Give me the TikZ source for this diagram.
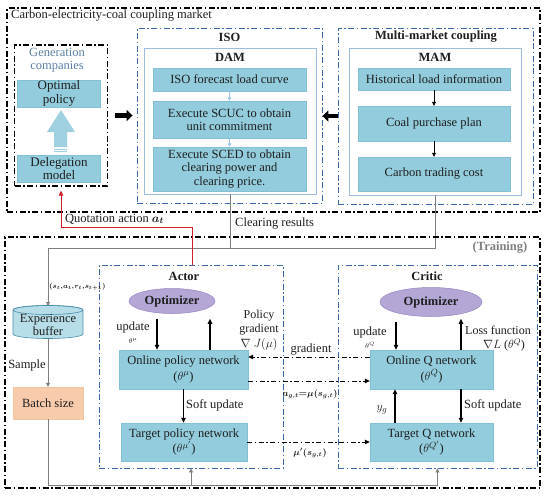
\documentclass[tikz,border=0pt]{standalone}
\usepackage{fontspec}
\setmainfont{Liberation Serif}
\usepackage{amsmath}
\usetikzlibrary{arrows.meta,shapes.geometric}
\definecolor{boxblue}{HTML}{93CDDD}
\definecolor{boxedge}{HTML}{82C0D3}
\definecolor{ddblue}{HTML}{3A6AA8}
\definecolor{lineblue}{HTML}{9DBCE0}
\definecolor{arrblue}{HTML}{9DC3E6}
\definecolor{genblue}{HTML}{5B7FA6}
\definecolor{optfill}{HTML}{B4A7D6}
\definecolor{optedge}{HTML}{9584C0}
\definecolor{peach}{HTML}{F8CBAD}
\definecolor{peachedge}{HTML}{F4C3A0}
\definecolor{cylfill}{HTML}{B7DEE8}
\definecolor{cyledge}{HTML}{4A8FA8}
\definecolor{bigarrow}{HTML}{9FD0E0}
\definecolor{gline}{HTML}{7F7F7F}
\definecolor{redline}{HTML}{D0202A}
\definecolor{ink}{HTML}{1E1E1E}
\begin{document}
\begin{tikzpicture}[x=1pt,y=-1pt,
  font=\fontsize{12.5}{13.5}\selectfont, text=ink,
  outerbk/.style={draw=black, line width=1.2pt, dash pattern=on 6pt off 2.5pt on 1.5pt off 2.5pt, inner sep=0pt},
  bluedd/.style={draw=ddblue, line width=0.9pt, dash pattern=on 6pt off 2.5pt on 1.5pt off 2.5pt, inner sep=0pt},
  panel/.style={draw=lineblue, line width=0.8pt, inner sep=0pt},
  bbox/.style={fill=boxblue, draw=boxedge, line width=0.4pt, align=center, inner sep=1pt},
  netbox/.style={bbox, font=\fontsize{12.5}{15.5}\selectfont},
  optell/.style={ellipse, fill=optfill, draw=optedge, line width=0.5pt, inner sep=0pt, font=\fontsize{12.5}{13.5}\selectfont\bfseries},
  karr/.style={draw=black, line width=1.2pt, -{Triangle[length=5pt,width=4.5pt]}},
  ddarr/.style={draw=black, line width=0.8pt, dash pattern=on 5pt off 2.5pt on 1.5pt off 2.5pt, -{Triangle[length=5pt,width=4.5pt]}},
  bigarr/.style={draw=black, line width=4.5pt, -{Triangle[length=6pt,width=11pt]}},
  lbarr/.style={draw=arrblue, line width=0.8pt, -{Triangle[length=3.5pt,width=3.5pt]}},
  thinarr/.style={draw=black, line width=0.8pt, -{Triangle[length=4pt,width=4pt]}},
  gl/.style={draw=gline, line width=0.8pt},
  garr/.style={draw=gline, line width=0.8pt, -{Triangle[length=4pt,width=4pt]}},
  redarr/.style={draw=redline, line width=1pt, -{Triangle[length=5pt,width=4.5pt]}},
  ttl/.style={font=\fontsize{12.5}{13.5}\selectfont\bfseries},
  lbl/.style={align=center, inner sep=0pt}
]
\useasboundingbox (0,0) rectangle (550,496);

% ---------------- market ----------------
\node[outerbk, minimum width=533, minimum height=204] (market) at (273.5,110) {};
\node[anchor=west, inner sep=0pt] (mlabel) at (11,16) {Carbon-electricity-coal coupling market};

% generation companies
\node[outerbk, minimum width=93, minimum height=141] (gen) at (61,115.5) {};
\node[lbl, text=genblue] (genlbl) at (57,60) {Generation\\companies};
\node[bbox, minimum width=83, minimum height=27, font=\fontsize{13}{13.5}\selectfont] (optp) at (59,93.5) {Optimal\\policy};
\node[bbox, minimum width=83, minimum height=27, font=\fontsize{13}{13.5}\selectfont] (deleg) at (59,168.5) {Delegation\\model};
\fill[bigarrow] (54,147) -- (54,132) -- (47,132) -- (61,110) -- (75,132) -- (67,132) -- (67,147) -- cycle;
\fill[bigarrow] (54,148.5) rectangle (67,149.5);
\fill[bigarrow] (54,151) rectangle (67,152);

% ISO
\node[bluedd, minimum width=185, minimum height=175] (iso) at (229.5,115.5) {};
\node[ttl] (isot) at (229.5,37) {ISO};
\node[panel, minimum width=172, minimum height=146] (dam) at (230,121) {};
\node[ttl] (damt) at (230,57) {DAM};
\node[bbox, minimum width=153, minimum height=23] (fcst) at (229.5,79.5) {ISO forecast load curve};
\node[bbox, minimum width=153, minimum height=37] (scuc) at (229.5,119.5) {Execute SCUC to obtain\\unit commitment};
\node[bbox, minimum width=153, minimum height=44] (sced) at (229.5,169) {Execute SCED to obtain\\clearing power and\\clearing price.};
\draw[lbarr] (fcst.south) -- (scuc.north);
\draw[lbarr] (scuc.south) -- (sced.north);

% MAM
\node[bluedd, minimum width=195, minimum height=176] (mmc) at (435.5,116) {};
\node[ttl] (mmct) at (436,37) {Multi-market coupling};
\node[panel, minimum width=172, minimum height=147] (mam) at (435,121.5) {};
\node[ttl] (mamt) at (435,57) {MAM};
\node[bbox, minimum width=152, minimum height=22] (hist) at (434,79) {Historical load information};
\node[bbox, minimum width=152, minimum height=35] (coal) at (434,123.5) {Coal purchase plan};
\node[bbox, minimum width=152, minimum height=34] (carb) at (434,174) {Carbon trading cost};
\draw[thinarr] (hist.south) -- (coal.north);
\draw[thinarr] (coal.south) -- (carb.north);

% thick arrows
\draw[bigarr] ([xshift=7pt]gen.east) -- ([xshift=-4pt]gen.east -| iso.west);
\draw[bigarr] (mmc.west) -- (mmc.west -| iso.east);

% clearing results
\coordinate (clr) at (0,248);
\draw[gl] (mam.south) |- (dam.south |- clr);
\draw[garr] (dam.south) -- (dam.south |- clr) -| (48,306);
\node[anchor=west, inner sep=0pt] (clrt) at (235,224) {Clearing results};

% ---------------- training ----------------
\node[outerbk, minimum width=535, minimum height=251] (train) at (272.5,362.5) {};
\node[ttl, text=gline] (traint) at (500,248) {(Training)};

\node[bluedd, minimum width=184, minimum height=203] (actor) at (191,366.5) {};
\node[ttl] (actort) at (184,276) {Actor};
\node[bluedd, minimum width=199, minimum height=203] (critic) at (437.5,366.5) {};
\node[ttl] (critict) at (427,276) {Critic};

\node[optell, minimum width=86, minimum height=25] (optA) at (172,301) {Optimizer};
\node[optell, minimum width=102, minimum height=29] (optC) at (431,302) {Optimizer};

\node[netbox, minimum width=129, minimum height=39] (onp) at (183.5,369.5) {Online policy network\\($\theta^{\mu}$)};
\node[netbox, minimum width=126, minimum height=38] (tgp) at (184,442) {Target policy network\\($\theta^{\mu'}$)};
\node[netbox, minimum width=123, minimum height=39] (onq) at (431.5,369.5) {Online Q network\\($\theta^{Q}$)};
\node[netbox, minimum width=123, minimum height=38] (tgq) at (431.5,442) {Target Q network\\($\theta^{Q'}$)};

% experience buffer (cylinder)
\node[minimum width=70, minimum height=32, inner sep=0pt] (buf) at (48,322) {};
\filldraw[fill=cylfill, draw=cyledge, line width=0.6pt] (13,310) -- (13,334) arc[start angle=180, end angle=0, x radius=35, y radius=4.5] -- (83,310) arc[start angle=0, end angle=-180, x radius=35, y radius=4.5] -- cycle;
\draw[cyledge, line width=0.6pt] (48,310) ellipse[x radius=35, y radius=4.5];
\node[lbl] (buft) at (48,325) {Experience\\buffer};
\node[fill=peach, draw=peachedge, minimum width=70, minimum height=32] (batch) at (48,403) {Batch size};

\node[anchor=west, inner sep=0pt, font=\fontsize{7}{8}\selectfont] (tup) at (49,287) {$\boldsymbol{(s_t{,}a_t{,}r_t{,}s_{t+1})}$};
\draw[garr] (buf.south) -- (batch.north);
\node[lbl] (samp) at (27,365) {Sample};

\coordinate (bot) at (0,485);
\draw[gl] (batch.south) |- (critic.south |- bot);
\draw[garr] (actor.south |- bot) -- (actor.south);
\draw[garr] (critic.south |- bot) -- (critic.south);

% red quotation
\draw[redarr] ([xshift=1pt]actor.north) -- ++(0,-37) -| ([yshift=-4pt]gen.south);
\node[anchor=west, inner sep=0pt] (qa) at (65,219) {Quotation action $\boldsymbol{a_t}$};

% actor arrows
\draw[karr] ([shift={(-26.5pt,31pt)}]onp.north) -- ([xshift=-26.5pt]onp.north);
\draw[karr] ([xshift=26.5pt]onp.north) -- ++(0,-31);
\node[lbl] (updA) at (133,327) {update};
\node[lbl, font=\scriptsize] (thA) at (133,341) {$\theta^{\mu}$};
\node[lbl, font=\fontsize{12}{14.5}\selectfont] (pg) at (259,330) {Policy\\gradient\\$\nabla$ $J(\mu)$};
\draw[karr] (onp.south) -- (onp.south |- tgp.north);
\node[anchor=west, inner sep=0pt] (suA) at (186,405) {Soft update};

% critic arrows
\draw[karr] ([shift={(-35.5pt,28pt)}]onq.north) -- ([xshift=-35.5pt]onq.north);
\draw[karr] ([xshift=29.5pt]onq.north) -- ++(0,-31);
\node[lbl] (updC) at (370,332) {update};
\node[lbl, font=\scriptsize] (thC) at (370,345) {$\theta^{Q}$};
\node[lbl, font=\fontsize{12}{13}\selectfont] (lf) at (498,330) {Loss function};
\node[lbl, font=\fontsize{12}{13}\selectfont] (lfg) at (504,345) {$\nabla L$ ($\theta^{Q}$)};
\draw[karr] ([xshift=29.5pt]onq.south) -- ([xshift=29.5pt]onq.south |- tgq.north);
\node[anchor=west, inner sep=0pt] (suC) at (464,405) {Soft update};
\draw[karr] ([xshift=-36.5pt]tgq.north) -- ([xshift=-36.5pt]tgq.north |- onq.south);
\node[lbl, font=\fontsize{13}{14}\selectfont] (yg) at (382,410) {$y_g$};

% dash-dot exchange arrows
\draw[ddarr] ([yshift=12.5pt]onq.west) -- ([yshift=12.5pt]onq.west -| onp.east);
\node[lbl] (gradt) at (311,350) {gradient};
\draw[ddarr] ([yshift=-11.5pt]onp.east) -- ([yshift=-11.5pt]onp.east -| onq.west);
\node[lbl, font=\small] (at) at (310,394) {$\boldsymbol{a_{g,t}{=}\mu(s_{g,t})}$};
\draw[ddarr] (tgp.east) -- (tgp.east -| tgq.west);
\node[lbl, font=\small] (mut) at (310,453) {$\boldsymbol{\mu'(s_{g,t})}$};
\end{tikzpicture}
\end{document}
